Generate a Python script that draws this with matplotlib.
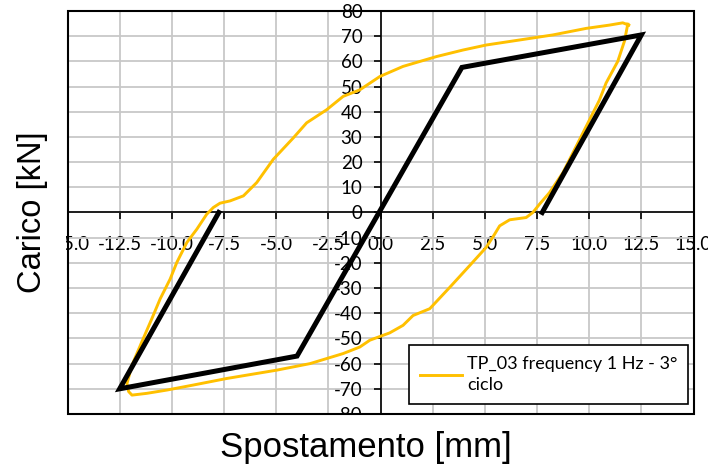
import matplotlib
matplotlib.use("Agg")
import matplotlib.pyplot as plt
from matplotlib.patches import Rectangle
from matplotlib.transforms import Bbox
import numpy as np

plt.rcParams['axes.unicode_minus'] = False

# Hysteresis loop (TP_03, 1 Hz, 3rd cycle)
loop_x = [11.85, 11.69, 11.37, 10.81, 10.49, 10.01, 9.38, 8.74, 8.10, 7.62, 7.30,
          6.98, 6.19, 5.71, 5.47, 5.07, 4.27, 3.32, 2.36, 1.56, 1.08, 0.44, -0.51,
          -0.99, -1.79, -3.38, -4.98, -7.37, -8.97, -10.24, -11.20, -11.91, -12.07,
          -12.15, -11.91, -11.44, -10.96, -10.56, -10.08, -9.76, -9.28, -8.80, -8.33,
          -8.01, -7.69, -7.21, -6.57, -5.93, -5.14, -4.18, -3.54, -2.58, -1.79, -0.99,
          -0.03, 1.08, 2.68, 3.95, 5.07, 6.67, 8.26, 9.86, 10.97, 11.61, 11.90]
loop_y = [74.8, 68.0, 60.0, 51.4, 44.6, 36.7, 26.3, 15.8, 7.9, 3.3, 0.0,
          -2.0, -2.9, -5.3, -8.6, -13.8, -21.1, -29.7, -38.2, -40.9, -44.8, -47.8, -50.7,
          -53.4, -56.0, -60.0, -62.6, -65.9, -68.5, -70.5, -71.8, -72.5, -71.1,
          -67.9, -60.6, -51.4, -42.2, -34.3, -26.4, -19.8, -11.9, -6.6, -0.7,
          2.0, 3.7, 4.6, 6.6, 11.9, 21.1, 29.6, 35.6, 40.8, 46.1, 48.7,
          54.0, 58.0, 61.9, 64.5, 66.5, 68.5, 70.5, 73.1, 74.4, 75.3, 74.4]

# bilinear model (black)
model_x = [-7.75, -12.5, -4.0, 3.9, 12.5, 7.75]
model_y = [0.0, -70.0, -57.0, 57.6, 70.5, 0.0]

legend_label = "TP_03 frequency 1 Hz - 3°\nciclo"
x_ticks = np.arange(-15, 15.1, 2.5)
y_ticks = np.arange(-80, 81, 10)

W, H = 708, 468
fig = plt.figure(figsize=(W / 100, H / 100), dpi=100)
ax = fig.add_axes([67.5 / W, 1 - 414 / H, 626 / W, 403 / H])
ax.set_xlim(-15, 15)
ax.set_ylim(-80, 80)

ax.grid(True, color='#c8c8c8', lw=1.3)
ax.set_axisbelow(True)

ax.spines['left'].set_position('zero')
ax.spines['bottom'].set_position('zero')
for s in ax.spines.values():
    s.set_linewidth(1.2)
    s.set_color('black')
ax.add_patch(Rectangle((0, 0), 1, 1, transform=ax.transAxes, fill=False,
                       lw=1.5, ec='black', clip_on=False, zorder=5))

ax.plot(loop_x, loop_y, color='#ffc000', lw=2.1, label=legend_label, zorder=3)
ax.plot(model_x, model_y, color='black', lw=3.6, zorder=4, solid_joinstyle='miter')

ax.set_xticks(x_ticks, [f"{v:.1f}" for v in x_ticks])
ax.set_yticks(y_ticks, [f"{v:d}" for v in y_ticks])
ax.tick_params(axis='both', direction='out', length=5, width=1.2, color='black',
               labelsize=13.5, labelcolor='black')
ax.tick_params(axis='x', pad=12)
ax.tick_params(axis='y', pad=8)
for lab in ax.get_xticklabels() + ax.get_yticklabels():
    lab.set_family('Lato')

# chart area clips the outer labels
clip = Bbox([[66, H - 415], [W, H]])
for lab in ax.get_xticklabels() + ax.get_yticklabels():
    lab.set_clip_box(clip)
    lab.set_clip_on(True)

ax.set_xlabel("Spostamento [mm]", fontsize=25, family='Liberation Sans')
ax.set_ylabel("Carico [kN]", fontsize=23.5, family='Liberation Sans')
ax.xaxis.set_label_coords((366 - 67.5) / 626, (414 - 448) / 403)
ax.xaxis.label.set_va('center')
ax.yaxis.set_label_coords((33 - 67.5) / 626, 0.5)
ax.yaxis.label.set_va('center')

leg = ax.legend(loc='lower right', bbox_to_anchor=((688.3 - 67.5) / 626, 10 / 403),
                borderaxespad=0, fancybox=False, framealpha=1, edgecolor='black',
                prop={'family': 'Lato', 'size': 13}, handlelength=2.3,
                borderpad=0.6, handletextpad=0.3)
leg.get_frame().set_linewidth(1.2)
for t in leg.get_texts():
    t.set_linespacing(1.4)

fig.savefig("out.png", dpi=100)
